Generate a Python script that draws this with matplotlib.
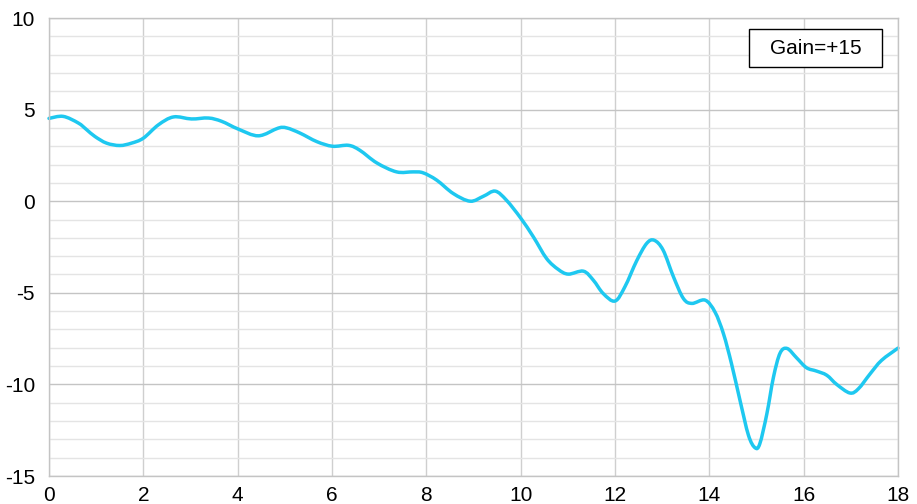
import matplotlib
matplotlib.use("Agg")
import matplotlib.pyplot as plt
from matplotlib.ticker import MultipleLocator
from matplotlib.path import Path
from matplotlib.patches import PathPatch, Rectangle

plt.rcParams['font.family'] = ['Liberation Sans', 'DejaVu Sans']
plt.rcParams['axes.unicode_minus'] = False

# Frequency response samples
freq = [0.0, 0.30, 0.62, 0.80, 0.975, 1.22, 1.5, 1.75, 2.0, 2.32, 2.64, 3.02,
        3.38, 3.66, 4.01, 4.44, 4.86, 5.04, 5.32, 5.68, 6.01, 6.35, 6.59, 6.95,
        7.37, 7.72, 7.93, 8.22, 8.57, 8.93, 9.21, 9.46, 9.70, 10.0, 10.27, 10.55,
        10.80, 11.01, 11.33, 11.54, 11.75, 12.0, 12.21, 12.46, 12.67, 12.83, 13.02,
        13.24, 13.45, 13.63, 13.91, 14.12, 14.30, 14.47, 14.65, 14.83, 14.97, 15.07,
        15.22, 15.36, 15.5, 15.65, 15.85, 16.06, 16.27, 16.49, 16.70, 16.98, 17.16,
        17.41, 17.65, 18.0]
level = [4.52, 4.63, 4.27, 3.9, 3.53, 3.17, 3.04, 3.17, 3.44, 4.17, 4.6, 4.49,
         4.54, 4.36, 3.94, 3.57, 3.99, 4.0, 3.72, 3.25, 3.0, 3.05, 2.78, 2.09,
         1.6, 1.6, 1.55, 1.15, 0.42, 0.0, 0.27, 0.55, 0.05, -0.92, -1.95, -3.13,
         -3.73, -3.98, -3.82, -4.31, -5.04, -5.45, -4.67, -3.25, -2.31, -2.13, -2.67,
         -4.13, -5.31, -5.58, -5.4, -6.05, -7.24, -8.87, -10.87, -12.78, -13.46, -13.24,
         -11.6, -9.6, -8.29, -8.04, -8.55, -9.09, -9.27, -9.5, -10.0, -10.47, -10.24,
         -9.42, -8.69, -8.02]

x_ticks = [0, 2, 4, 6, 8, 10, 12, 14, 16, 18]
y_ticks = [-15, -10, -5, 0, 5, 10]
label_text = "Gain=+15"


def smooth_path(xs, ys, tension=1 / 6):
    """Cubic Bezier path passing through every sample (Catmull-Rom handles)."""
    verts = [(xs[0], ys[0])]
    codes = [Path.MOVETO]
    n = len(xs)
    for i in range(n - 1):
        x0, y0 = (xs[i - 1], ys[i - 1]) if i > 0 else (xs[i], ys[i])
        x1, y1 = xs[i], ys[i]
        x2, y2 = xs[i + 1], ys[i + 1]
        x3, y3 = (xs[i + 2], ys[i + 2]) if i + 2 < n else (x2, y2)
        c1 = (x1 + (x2 - x0) * tension, y1 + (y2 - y0) * tension)
        c2 = (x2 - (x3 - x1) * tension, y2 - (y3 - y1) * tension)
        verts += [c1, c2, (x2, y2)]
        codes += [Path.CURVE4] * 3
    return Path(verts, codes)


fig = plt.figure(figsize=(9.17, 5.04), dpi=100)
ax = fig.add_axes([49 / 917, 1 - 476 / 504, 849 / 917, 458 / 504])

ax.set_xlim(0, 18)
ax.set_ylim(-15, 10)
ax.set_xticks(x_ticks)
ax.set_yticks(y_ticks)
ax.yaxis.set_minor_locator(MultipleLocator(1))

ax.grid(which='major', axis='y', color='#c4c4c4', linewidth=1.0)
ax.grid(which='minor', axis='y', color='#e4e4e4', linewidth=1.0)
ax.grid(which='major', axis='x', color='#cfcfcf', linewidth=1.0)
ax.set_axisbelow(True)

for side in ax.spines.values():
    side.set_color('#c4c4c4')
    side.set_linewidth(1.0)

ax.tick_params(which='both', length=0)
ax.tick_params(axis='x', labelsize=15, pad=7.5, colors='black')
ax.tick_params(axis='y', labelsize=15, pad=10, colors='black')

curve = PathPatch(smooth_path(freq, level), facecolor='none', edgecolor='#1ec8f0',
                  linewidth=2.5, joinstyle='round', capstyle='round', clip_on=False)
ax.add_patch(curve)

# Label box in the upper right corner (axes fraction coordinates)
bx0, bx1 = (749.5 - 49) / 849, (882.5 - 49) / 849
by0, by1 = (476 - 67) / 458, (476 - 29) / 458
ax.add_patch(Rectangle((bx0, by0), bx1 - bx0, by1 - by0, transform=ax.transAxes,
                       facecolor='white', edgecolor='black', linewidth=1.0, zorder=5))
ax.text((bx0 + bx1) / 2, (by0 + by1) / 2, label_text, transform=ax.transAxes,
        fontsize=15, ha='center', va='center', zorder=6)

fig.savefig("out.png", dpi=100)
